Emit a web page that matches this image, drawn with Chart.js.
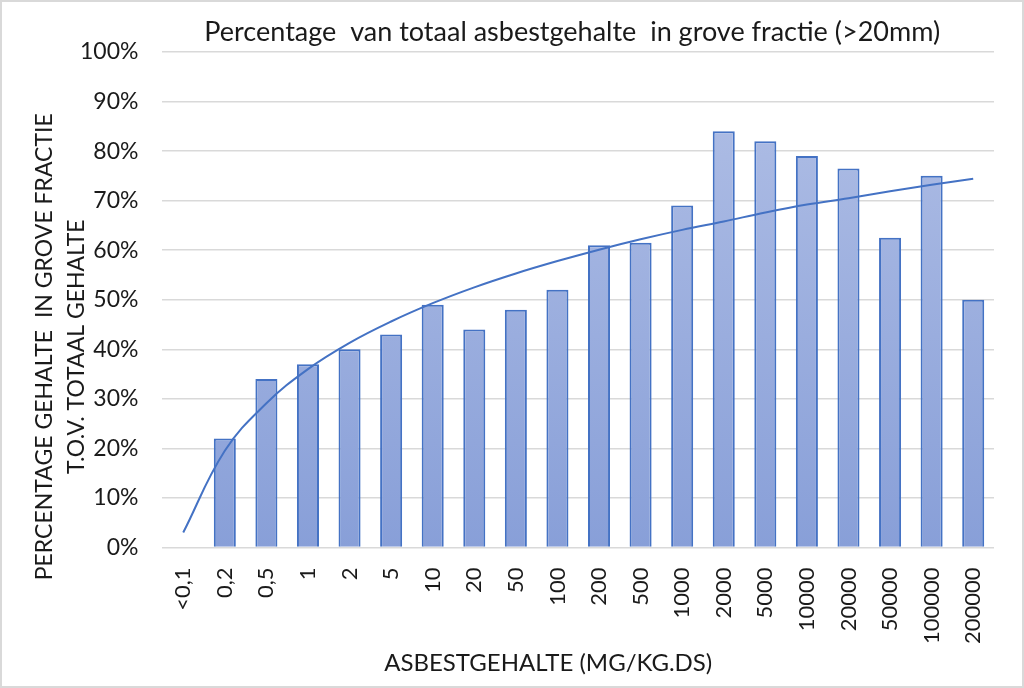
<!DOCTYPE html>
<html>
<head>
<meta charset="utf-8">
<script src="https://cdn.jsdelivr.net/npm/chart.js@4/dist/chart.umd.min.js"></script>
<style>
  html, body { margin: 0; padding: 0; background: #fff; }
  #wrap {
    position: relative;
    width: 1024px;
    height: 688px;
    box-sizing: border-box;
    border: 2px solid #d9d9d9;
  }
</style>
</head>
<body>
<div id="wrap"><canvas id="asbestChart"></canvas></div>
<script>
// -- Data ----------------------------------------------------------------
const categories = [
  "<0,1", "0,2", "0,5", "1", "2", "5", "10", "20", "50", "100",
  "200", "500", "1000", "2000", "5000", "10000", "20000", "50000",
  "100000", "200000",
];
// percentage of total asbestos content found in the coarse (>20mm) fraction
const coarsePct = [
  null, 22, 34, 37, 40, 43, 49, 44, 48, 52,
  61, 61.5, 69, 84, 82, 79, 76.5, 62.5, 75, 50,
];
// trendline as drawn in the picture
const trendPct = [
  3, 19.5, 29.1, 36, 41.3, 45.6, 49.3, 52.5, 55.3, 57.8,
  60.1, 62.2, 64.1, 65.8, 67.6, 69.2, 70.5, 71.9, 73.2, 74.4,
];
const yTicks = [0, 10, 20, 30, 40, 50, 60, 70, 80, 90, 100];

const chartTitle = "Percentage  van totaal asbestgehalte  in grove fractie (>20mm)";
const xTitle = "ASBESTGEHALTE (MG/KG.DS)";
const yTitle = ["PERCENTAGE GEHALTE  IN GROVE FRACTIE", "T.O.V. TOTAAL GEHALTE"];

const FONT = "Lato, 'Open Sans', sans-serif";
const INK = "#1a1a1a";
const BLUE = "#4472c4";

(function () {
  "use strict";

  // Titles are placed like Excel does it (not centred on the plot area),
  // so draw them by hand; layout padding keeps room for them.
  const chartTexts = {
    id: "chartTexts",
    afterDraw(chart) {
      const { ctx, chartArea } = chart;
      const midX = (chartArea.left + chartArea.right) / 2;
      const midY = (chartArea.top + chartArea.bottom) / 2;
      ctx.save();
      ctx.fillStyle = INK;
      ctx.textAlign = "center";
      ctx.textBaseline = "middle";

      ctx.font = `27px ${FONT}`;
      ctx.fillText(chartTitle, midX - 6, 30);

      ctx.font = `24px ${FONT}`;
      ctx.fillText(xTitle, midX - 30, 661);

      ctx.font = `23px ${FONT}`;
      ctx.translate(0, midY + 47);
      ctx.rotate(-Math.PI / 2);
      ctx.fillText(yTitle[0], 0, 43);
      ctx.fillText(yTitle[1], 0, 75);
      ctx.restore();
    },
  };

  function barFill(context) {
    const area = context.chart.chartArea;
    if (!area) return "#9aaddd";
    const g = context.chart.ctx.createLinearGradient(0, area.top, 0, area.bottom);
    g.addColorStop(0, "#b2c0e6");
    g.addColorStop(1, "#889fd8");
    return g;
  }

  new Chart(document.getElementById("asbestChart"), {
    data: {
      labels: categories,
      datasets: [
        {
          type: "line",
          data: trendPct,
          borderColor: BLUE,
          borderWidth: 2,
          pointRadius: 0,
          tension: 0.4,
          order: 0,
        },
        {
          type: "bar",
          data: coarsePct,
          backgroundColor: barFill,
          borderColor: BLUE,
          borderWidth: 2,
          barPercentage: 1,
          categoryPercentage: 0.53,
          order: 1,
        },
      ],
    },
    options: {
      animation: false,
      responsive: true,
      maintainAspectRatio: false,
      layout: { padding: { left: 54, right: 28, top: 50, bottom: 30 } },
      scales: {
        x: {
          grid: { display: false },
          border: { display: false },
          ticks: {
            color: INK,
            font: { family: FONT, size: 22 },
            minRotation: 90,
            maxRotation: 90,
            padding: 12,
          },
        },
        y: {
          min: 0,
          max: 100,
          afterBuildTicks: (axis) => {
            axis.ticks = yTicks.map((v) => ({ value: v }));
          },
          grid: { color: "#d9d9d9", lineWidth: 1.5, drawTicks: false },
          border: { display: false },
          ticks: {
            color: INK,
            font: { family: FONT, size: 23 },
            padding: 24,
            callback: (v) => `${v}%`,
          },
        },
      },
      plugins: {
        legend: { display: false },
        tooltip: { enabled: false },
      },
    },
    plugins: [chartTexts],
  });
})();
</script>
</body>
</html>
